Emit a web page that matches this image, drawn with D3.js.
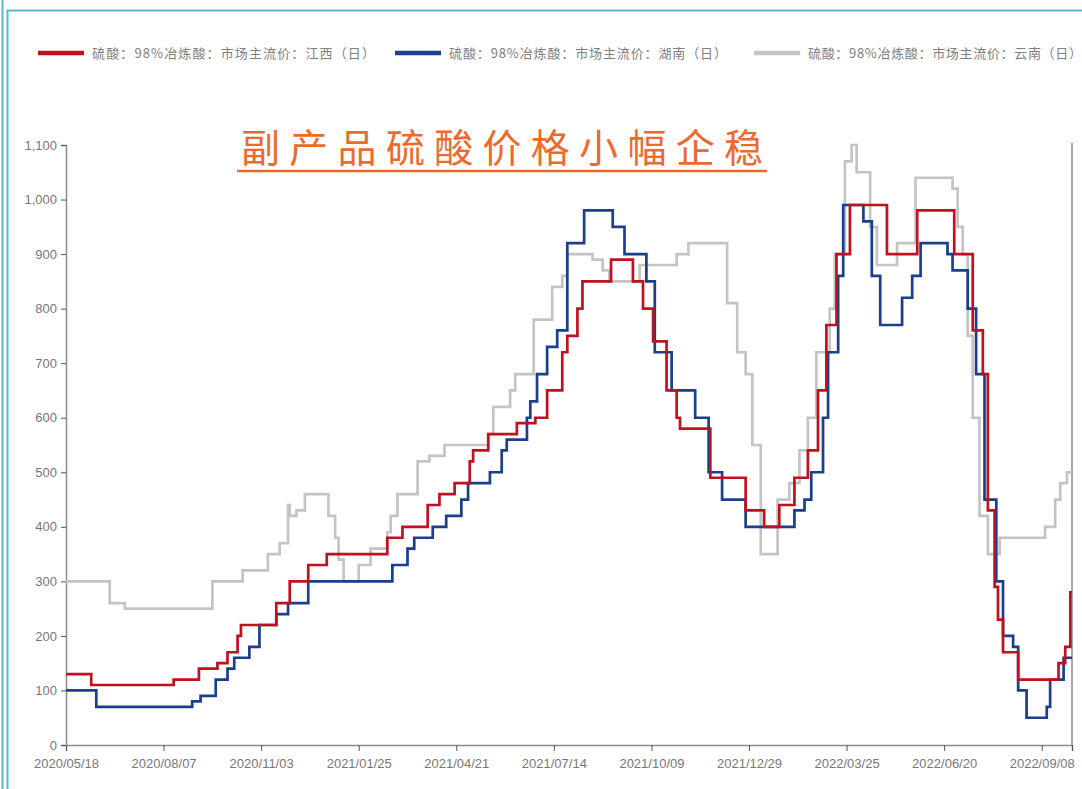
<!DOCTYPE html>
<html>
<head>
<meta charset="utf-8">
<script src="https://cdn.jsdelivr.net/npm/d3@7/dist/d3.min.js"></script>
<style>
  html, body { margin: 0; padding: 0; background: #fff; }
  svg { display: block; }
</style>
</head>
<body>
<svg id="chart" width="1082" height="789"></svg>
<script>
// Sulphuric acid (98% smelter acid) mainstream market prices, daily, yuan/ton.
// x values are trading-day indices counted from 2020/05/18; each pair is [day, price]
// marking the day a new price level starts.
const tickLabels = ["2020/05/18", "2020/08/07", "2020/11/03", "2021/01/25", "2021/04/21",
  "2021/07/14", "2021/10/09", "2021/12/29", "2022/03/25", "2022/06/20", "2022/09/08"];
const tickStep = 58;
const lastDay = 598;
const yTicks = [0, 100, 200, 300, 400, 500, 600, 700, 800, 900, 1000, 1100];

const jiangxi = [
  [0,130],[15,110],[64,120],[79,140],[90,150],[96,170],[102,200],[104,220],[125,260],
  [133,300],[144,330],[155,350],[191,380],[200,400],[215,440],[222,460],[231,480],
  [240,520],[242,540],[251,570],[268,590],[279,600],[286,650],[295,720],[298,750],
  [304,800],[307,850],[324,890],[337,850],[343,800],[349,740],[357,650],[363,600],
  [365,580],[383,490],[404,430],[415,400],[424,440],[433,490],[441,540],[447,650],
  [452,770],[458,900],[466,990],[488,900],[506,980],[528,900],[539,760],[545,680],
  [548,430],[552,290],[554,230],[557,170],[566,120],[590,150],[594,180],[597,280],[598,280]
];
const hunan = [
  [0,100],[18,70],[75,80],[80,90],[89,120],[96,140],[100,160],[109,180],[115,220],
  [125,240],[132,260],[144,300],[194,330],[203,360],[207,380],[218,400],[226,420],
  [235,450],[239,480],[252,500],[259,540],[262,560],[274,600],[276,630],[280,680],
  [286,730],[292,760],[298,920],[308,980],[325,950],[332,900],[345,850],[350,720],
  [360,650],[374,600],[382,500],[390,450],[404,400],[433,430],[439,450],[443,500],
  [450,600],[453,720],[459,860],[462,990],[474,960],[479,860],[484,770],[497,820],
  [503,860],[508,920],[524,900],[527,870],[536,800],[541,680],[546,450],[553,300],
  [557,200],[563,180],[566,100],[571,50],[583,70],[585,120],[593,160],[598,160]
];
const yunnan = [
  [0,300],[26,260],[35,250],[87,300],[105,320],[120,350],[127,370],[132,440],[133,420],
  [137,430],[142,460],[156,420],[160,380],[162,340],[165,300],[174,330],[181,360],
  [191,390],[193,420],[197,460],[209,520],[216,530],[225,550],[251,570],[254,620],
  [264,650],[267,680],[278,780],[289,840],[295,860],[298,900],[313,890],[319,870],
  [323,850],[341,880],[363,900],[370,920],[393,810],[399,720],[404,680],[408,550],
  [413,350],[423,450],[430,480],[436,540],[441,600],[446,720],[454,800],[457,900],
  [463,1070],[467,1100],[470,1050],[478,950],[482,880],[494,920],[505,1040],[527,1020],
  [530,950],[533,900],[536,750],[539,600],[543,420],[548,350],[555,380],[582,400],
  [588,450],[591,480],[595,500],[598,500]
];

const seriesNames = [
  "硫酸：98%冶炼酸：市场主流价：江西（日）",
  "硫酸：98%冶炼酸：市场主流价：湖南（日）",
  "硫酸：98%冶炼酸：市场主流价：云南（日）"
];
const seriesColors = ["#c0111f", "#1b3f8b", "#c4c4c4"];
const titleText = "副产品硫酸价格小幅企稳";

const svg = d3.select("#chart");
const plot = { left: 66, right: 1072, top: 145, bottom: 745 };

// Teal frame around the panel
const frameColor = "#5ab6cd";
svg.append("line").attr("x1", 2.5).attr("x2", 2.5).attr("y1", 0).attr("y2", 789)
  .attr("stroke", frameColor).attr("stroke-width", 2);
svg.append("path").attr("d", "M7.5,789 V10.5 H1082")
  .attr("fill", "none").attr("stroke", frameColor).attr("stroke-width", 2);

const x = d3.scaleLinear().domain([0, lastDay]).range([plot.left, plot.right]);
const y = d3.scaleLinear().domain([0, 1100]).range([plot.bottom, plot.top]);

// Axes
const axisColor = "#8c8c8c";
const textColor = "#777";

const xAxis = d3.axisBottom(x)
  .tickValues(tickLabels.map((d, i) => i * tickStep).concat([lastDay]))
  .tickFormat((d, i) => tickLabels[i] || "")
  .tickSizeOuter(0).tickSize(6).tickPadding(8);
const gx = svg.append("g").attr("transform", `translate(0,${plot.bottom})`).call(xAxis);
gx.select(".domain").attr("stroke", axisColor).attr("stroke-width", 1.5);
gx.selectAll(".tick line").attr("stroke", "#555");
gx.selectAll("text").attr("fill", textColor).attr("font-size", 13)
  .attr("font-family", "'Liberation Sans', Arial, sans-serif");

const yAxis = d3.axisLeft(y).tickValues(yTicks).tickFormat(d3.format(","))
  .tickSizeOuter(0).tickSize(5).tickPadding(4);
const gy = svg.append("g").attr("transform", `translate(${plot.left},0)`).call(yAxis);
gy.select(".domain").attr("stroke", axisColor).attr("stroke-width", 1.5);
gy.selectAll(".tick line").attr("stroke", "#555");
gy.selectAll("text").attr("fill", textColor).attr("font-size", 13)
  .attr("font-family", "'Liberation Sans', Arial, sans-serif");

// Right border of the plotting area
svg.append("line").attr("x1", plot.right).attr("x2", plot.right)
  .attr("y1", plot.top - 2).attr("y2", plot.bottom)
  .attr("stroke", axisColor).attr("stroke-width", 1.5);

// Price lines (stepped)
const line = d3.line().x(d => x(d[0])).y(d => y(d[1])).curve(d3.curveStepAfter);
const allSeries = [yunnan, hunan, jiangxi];
const allColors = [seriesColors[2], seriesColors[1], seriesColors[0]];
svg.append("g").selectAll("path").data(allSeries).join("path")
  .attr("d", line)
  .attr("fill", "none")
  .attr("stroke", (d, i) => allColors[i])
  .attr("stroke-width", 2.7)
  .attr("stroke-linejoin", "miter");

// Legend
const legendX = [38, 395, 754];
const legendTextW = [283, 278, 274];
const lg = svg.append("g").selectAll("g").data(seriesNames).join("g")
  .attr("transform", (d, i) => `translate(${legendX[i]},53)`);
lg.append("line").attr("x1", 0).attr("x2", 46).attr("y1", 0).attr("y2", 0)
  .attr("stroke", (d, i) => seriesColors[i]).attr("stroke-width", 4.5);
lg.append("text").attr("x", 54).attr("y", 5)
  .attr("font-size", 13)
  .attr("font-family", "'Noto Sans CJK SC', sans-serif")
  .attr("fill", "#808080")
  .attr("textLength", (d, i) => legendTextW[i])
  .attr("lengthAdjust", "spacing")
  .text(d => d);

// Title with underline
svg.append("text")
  .attr("x", 241).attr("y", 162)
  .attr("font-size", 39)
  .attr("font-family", "'Noto Sans CJK SC', sans-serif")
  .attr("font-weight", 400)
  .attr("fill", "#ec6a2c")
  .attr("textLength", 522)
  .attr("lengthAdjust", "spacing")
  .text(titleText);
svg.append("line").attr("x1", 237).attr("x2", 767).attr("y1", 171).attr("y2", 171)
  .attr("stroke", "#ec6a2c").attr("stroke-width", 2.5);
</script>
</body>
</html>
